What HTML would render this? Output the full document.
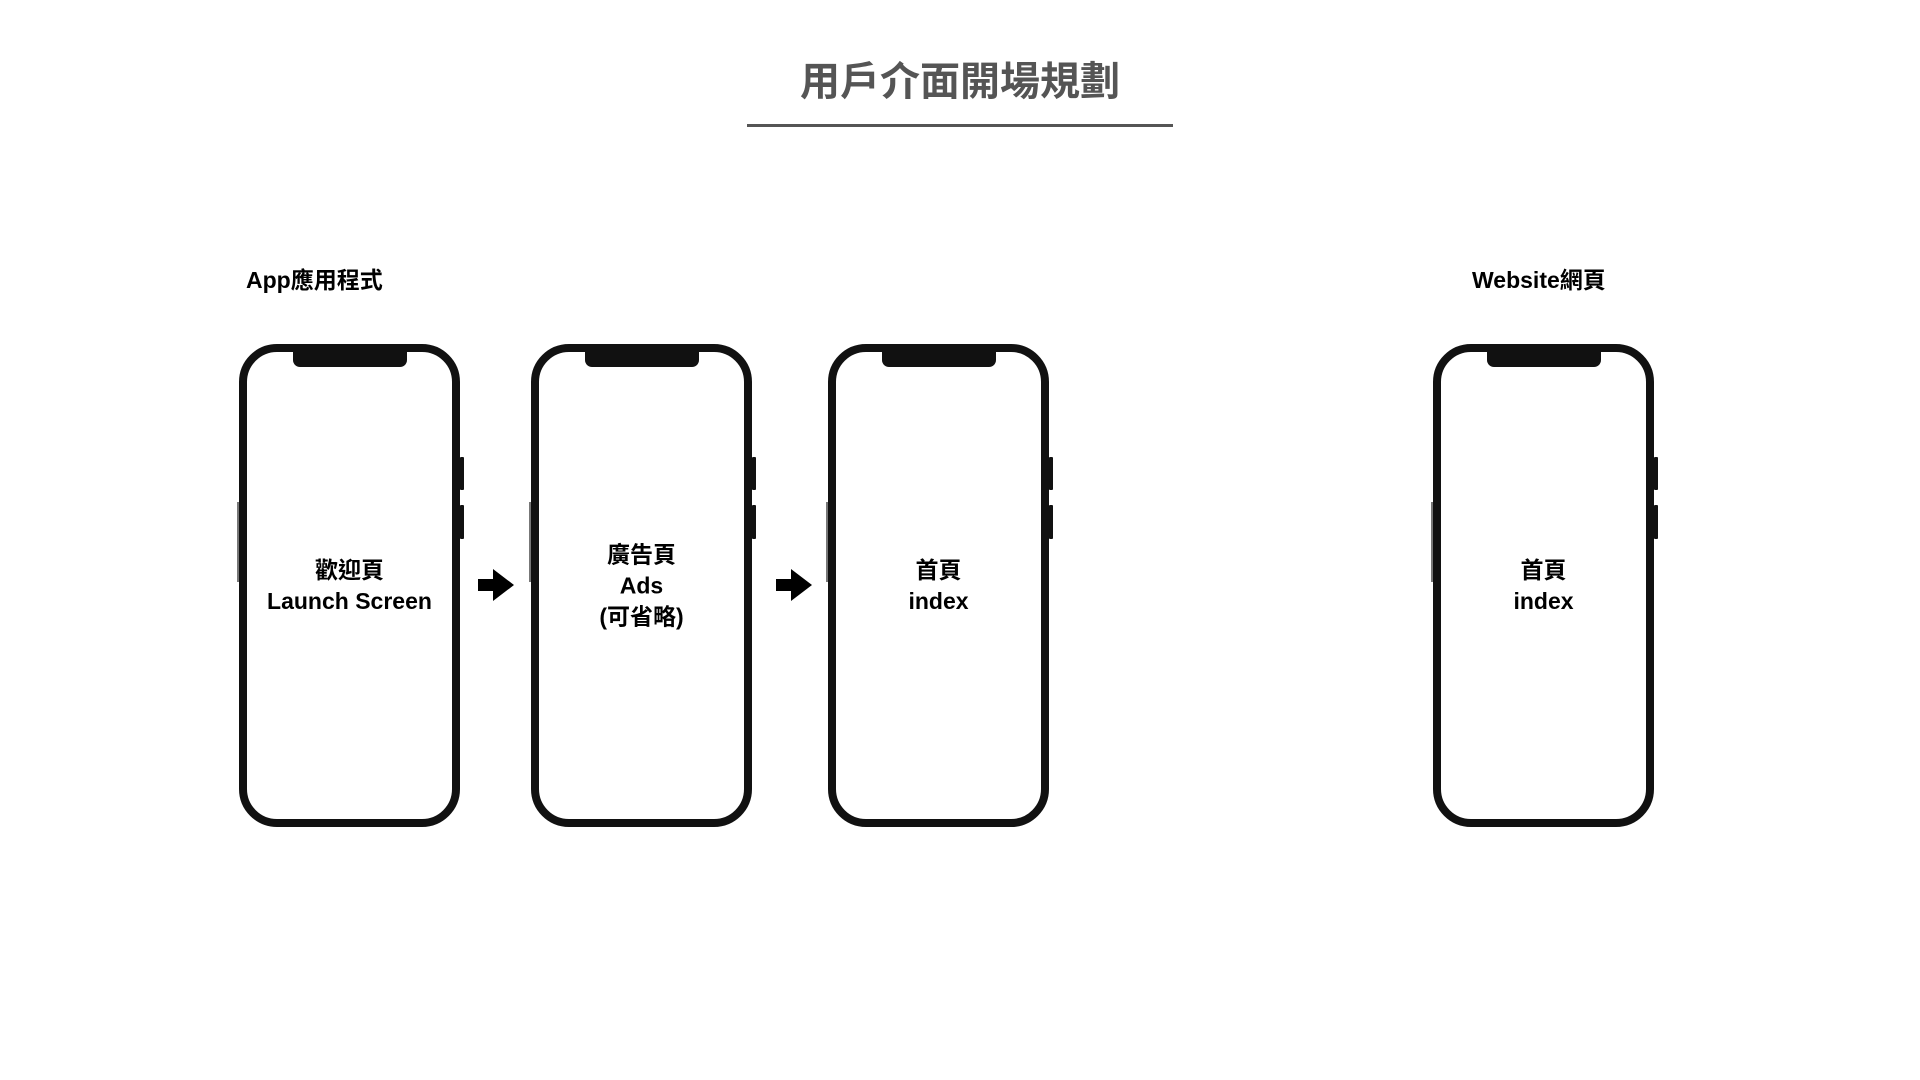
<!DOCTYPE html>
<html><head><meta charset="utf-8"><style>
body{margin:0;width:1920px;height:1080px;background:#fff;position:relative;overflow:hidden;font-family:"Liberation Sans","Noto Sans CJK TC",sans-serif;}
.t{position:absolute;left:0;width:1920px;top:49px;text-align:center;font-size:40px;font-weight:bold;color:#555;}
.ln{position:absolute;left:747px;width:426px;top:124px;height:3px;background:#555;}
.lab{position:absolute;font-size:23px;font-weight:bold;color:#000;top:261px;}
.ph{position:absolute;top:344px;width:205px;height:467px;border:8px solid #111;border-radius:38px;background:#fff;}
.notch{position:absolute;top:-2px;left:50%;margin-left:-57px;width:114px;height:17px;background:#111;border-radius:0 0 7px 7px;}
.btn{position:absolute;right:-12px;width:4px;background:#111;border-radius:1px;}
.btnl{position:absolute;left:-10px;width:2px;background:#777;top:150px;height:80px;}
.txt{position:absolute;left:-10px;right:-10px;top:50%;transform:translateY(-50%);text-align:center;font-size:23px;font-weight:bold;line-height:31px;color:#000;}
.ar{position:absolute;top:569px;width:36px;height:32px;}
</style></head><body>
<div class="t">用戶介面開場規劃</div>
<div class="ln"></div>
<div class="lab" style="left:246px">App應用程式</div>
<div class="lab" style="left:1472px">Website網頁</div>

<div class="ph" style="left:239px"><div class="notch"></div><div class="btn" style="top:105px;height:33px"></div><div class="btn" style="top:153px;height:34px"></div><div class="btnl"></div><div class="txt">歡迎頁<br>Launch Screen</div></div>
<div class="ph" style="left:531px"><div class="notch"></div><div class="btn" style="top:105px;height:33px"></div><div class="btn" style="top:153px;height:34px"></div><div class="btnl"></div><div class="txt">廣告頁<br>Ads<br>(可省略)</div></div>
<div class="ph" style="left:828px"><div class="notch"></div><div class="btn" style="top:105px;height:33px"></div><div class="btn" style="top:153px;height:34px"></div><div class="btnl"></div><div class="txt">首頁<br>index</div></div>
<div class="ph" style="left:1433px"><div class="notch"></div><div class="btn" style="top:105px;height:33px"></div><div class="btn" style="top:153px;height:34px"></div><div class="btnl"></div><div class="txt">首頁<br>index</div></div>

<svg class="ar" style="left:478px" viewBox="0 0 36 32"><polygon points="0,10 15,10 15,0 36,16 15,32 15,22 0,22" fill="#000"/></svg>
<svg class="ar" style="left:776px" viewBox="0 0 36 32"><polygon points="0,10 15,10 15,0 36,16 15,32 15,22 0,22" fill="#000"/></svg>
</body></html>
